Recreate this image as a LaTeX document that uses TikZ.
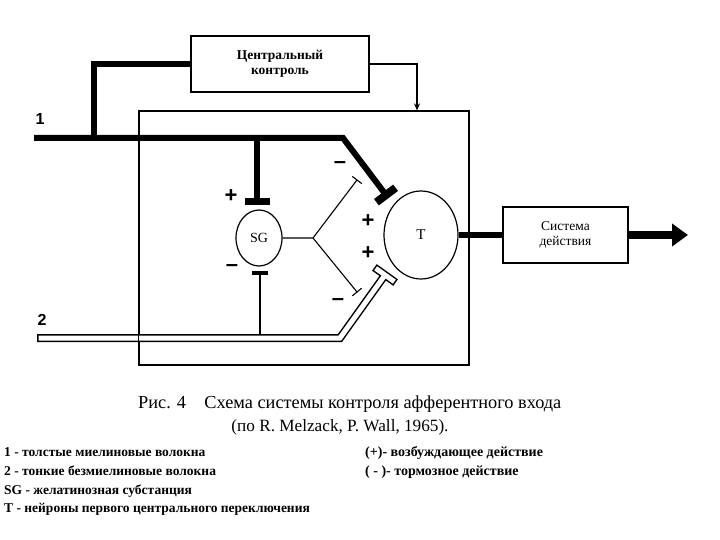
\documentclass[tikz,border=0pt]{standalone}
\usepackage{fontspec}
\setmainfont{Liberation Serif}
\newfontfamily\signfont{Liberation Sans}
\usetikzlibrary{arrows.meta,calc,shapes.geometric}
\begin{document}
\begin{tikzpicture}[x=1pt,y=-1pt,
  box/.style={draw,line width=1.2pt,font=\bfseries\fontsize{13.5}{15.5}\selectfont,align=center},
  fiberone/.style={line width=6pt},
  thinline/.style={line width=1.1pt},
  sign/.style={font=\signfont\bfseries\fontsize{22}{22}\selectfont,inner sep=0pt},
  legend/.style={font=\bfseries\fontsize{13.5}{15}\selectfont,anchor=base west,inner sep=0pt},
  captext/.style={font=\fontsize{18.3}{20}\selectfont,inner sep=0pt}]
\useasboundingbox (0,0) rectangle (720,540);
% boxes
\node[box,minimum width=178pt,minimum height=56pt] (cc) at (280,64) {Центральный\\контроль};
\node[draw,line width=1.2pt,minimum width=330pt,minimum height=254pt] (main) at (304,238) {};
\node[box,font=\fontsize{13.5}{15.5}\selectfont,minimum width=125pt,minimum height=56pt] (act) at (565.5,235) {Система\\действия};
\node[draw,ellipse,line width=1.2pt,minimum width=46pt,minimum height=56pt,inner sep=0pt,font=\fontsize{14}{14}\selectfont] (sg) at (259,238) {SG};
\node[draw,ellipse,line width=1.2pt,minimum width=74pt,minimum height=88pt,font=\fontsize{15}{15}\selectfont] (t) at (421,235) {T};
% coordinates
\coordinate (l1s) at (34,138);
\coordinate (l1b) at (94,138);
\coordinate (l1c) at (94,64);
\coordinate (l1d) at (257,138);
\coordinate (l1k) at (343,138);
\coordinate (l1e) at (386,195);
\coordinate (sgbar) at (257,202);
\coordinate (sgbot) at (260,273);
\coordinate (f2top) at (260,334);
\coordinate (fork) at (313,238);
\coordinate (up) at (357,180);
\coordinate (dn) at (357,292);
\coordinate (f2s) at (37,338);
\coordinate (f2k) at (340,338);
\coordinate (f2e) at (385,275);
\coordinate (ccin) at (417,64);
\coordinate (outend) at (688,235);
% fiber 2 (hollow)
\draw[line width=8pt] (f2s) -- (f2k) -- (f2e);
\draw[line width=8pt] ($(f2e)!13pt!90:(f2k)$) -- ($(f2e)!13pt!-90:(f2k)$);
\draw[line width=5pt,white] ($(f2e)!11.5pt!90:(f2k)$) -- ($(f2e)!11.5pt!-90:(f2k)$);
\draw[line width=5pt,white,line join=miter] ([xshift=1.5pt]f2s) -- (f2k) -- ($(f2e)!1.5pt!(f2k)$);
% main box edge over fiber
\draw[line width=1.2pt] (main.north west) -- (main.south west);
% fiber 1
\draw[fiberone,line join=miter] (l1s) -- (l1k) -- (l1e);
\draw[fiberone] (l1b) -- (l1c) -- (cc.west);
\draw[fiberone] (l1d) -- (sgbar);
\draw[line width=7pt] ($(sgbar)+(-12.5,0)$) -- ($(sgbar)+(12.5,0)$);
\draw[line width=8pt] ($(l1e)!12pt!90:(l1k)$) -- ($(l1e)!12pt!-90:(l1k)$);
% SG outputs
\draw[line width=4pt] ($(sgbot)+(-8,0)$) -- ($(sgbot)+(8,0)$);
\draw[thinline] (sgbot) -- (f2top);
\draw[thinline] (sg.east) -- (fork) -- (up);
\draw[thinline] (fork) -- (dn);
\draw[thinline] ($(up)!6pt!90:(fork)$) -- ($(up)!6pt!-90:(fork)$);
\draw[thinline] ($(dn)!6pt!90:(fork)$) -- ($(dn)!6pt!-90:(fork)$);
% central control to main box
\draw[thinline,-{Stealth[length=7pt,width=6pt]}] (cc.east |- ccin) -- (ccin) -- (ccin |- main.north);
% T to action
\draw[fiberone] (t.east) -- (act.west);
\draw[line width=7pt,-{Triangle[length=16pt,width=22pt]}] (act.east) -- (outend);
% signs
\node[sign] (p1) at (231,196) {+};
\node[sign] (m1) at (232,268) {–};
\node[sign] (m2) at (340,165) {–};
\node[sign] (p2) at (368,221) {+};
\node[sign] (p3) at (368,253) {+};
\node[sign] (m3) at (338,302) {–};
\node[sign,font=\signfont\bfseries\fontsize{16}{16}\selectfont] (n1) at (40,119) {1};
\node[sign,font=\signfont\bfseries\fontsize{16}{16}\selectfont] (n2) at (42,320) {2};
% caption
\node[captext,anchor=west] (c1) at (138,404) {Рис. 4\quad Схема системы контроля афферентного входа};
\node[captext,font=\fontsize{17.2}{19}\selectfont] (c2) at (340,427) {(по R. Melzack, P. Wall, 1965).};
% legend
\node[legend] (g1) at (4,456.5) {1 - толстые миелиновые волокна};
\node[legend] (g2) at (4,475) {2 - тонкие безмиелиновые волокна};
\node[legend] (g3) at (4,494) {SG - желатинозная субстанция};
\node[legend] (g4) at (4,512.5) {T - нейроны первого центрального переключения};
\node[legend,font=\bfseries\fontsize{14}{15}\selectfont] (g5) at (365,456.5) {(+)- возбуждающее действие};
\node[legend,font=\bfseries\fontsize{14}{15}\selectfont] (g6) at (365,475) {( - )- тормозное действие};
\end{tikzpicture}
\end{document}
